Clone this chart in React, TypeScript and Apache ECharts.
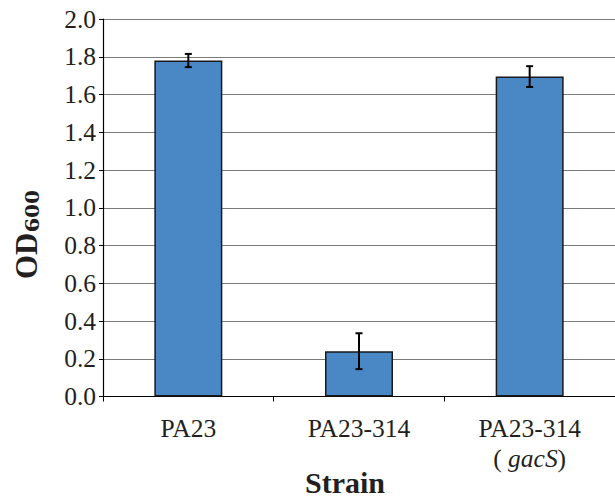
import React, { useEffect, useRef } from "react";
import * as echarts from "echarts";

const categories = ["PA23", "PA23-314", "PA23-314 (gacS)"];
const means = [1.78, 0.24, 1.695];
const errors = [0.035, 0.095, 0.055];
const yTicks = { min: 0, max: 2, interval: 0.2 };

const FONT = "Liberation Serif";
const TXT = "#231f20";
const FS = 25.5;

export default function App() {
  const ref = useRef<HTMLDivElement>(null);
  useEffect(() => {
    if (!ref.current) return;
    const chart = echarts.init(ref.current, null, { renderer: "svg" });
    const errData = means.map((m, i) => [i, m - errors[i], m + errors[i]]);
    chart.setOption({
      animation: false,
      backgroundColor: "#ffffff",
      textStyle: { fontFamily: FONT, fontSize: FS, color: TXT },
      grid: { left: 103, top: 19, width: 516, height: 377.5 },
      xAxis: {
        type: "category",
        data: categories,
        boundaryGap: true,
        axisLine: { show: true, lineStyle: { color: "#000", width: 1.2 } },
        axisTick: { show: true, length: 5, lineStyle: { color: "#000" } },
        axisLabel: {
          interval: 0,
          margin: 17,
          fontFamily: FONT,
          fontSize: FS,
          color: TXT,
          lineHeight: 30,
          formatter: (v: string) => {
            const m = v.match(/^(.*) \((.*)\)$/);
            if (m) return `{n|${m[1]}}\n{n|( }{i|${m[2]}}{n|)}`;
            return `{n|${v}}`;
          },
          rich: {
            n: { fontFamily: FONT, fontSize: FS, color: TXT, lineHeight: 30 },
            i: { fontFamily: FONT, fontSize: FS, color: TXT, fontStyle: "italic", lineHeight: 30 },
          },
        },
      },
      yAxis: {
        type: "value",
        min: yTicks.min,
        max: yTicks.max,
        interval: yTicks.interval,
        axisLine: { show: true, lineStyle: { color: "#000", width: 1.2 } },
        axisTick: { show: true, length: 4, lineStyle: { color: "#000" } },
        axisLabel: {
          margin: 7,
          fontFamily: FONT,
          fontSize: FS,
          color: TXT,
          formatter: (v: number) => v.toFixed(1),
        },
        splitLine: { show: true, lineStyle: { color: "#7a7a7a", width: 1.2 } },
      },
      series: [
        {
          type: "bar",
          data: means,
          barWidth: 68,
          itemStyle: { color: "#4a87c5", borderColor: "#1a1a1a", borderWidth: 1.5 },
        },
        {
          type: "custom",
          data: errData,
          z: 10,
          renderItem: (params: any, api: any) => {
            const x = api.coord([api.value(0), 0])[0];
            const lo = api.coord([api.value(0), api.value(1)])[1];
            const hi = api.coord([api.value(0), api.value(2)])[1];
            const w = 3.5;
            const style = { stroke: "#000", lineWidth: 2 };
            return {
              type: "group",
              children: [
                { type: "line", shape: { x1: x, y1: lo, x2: x, y2: hi }, style },
                { type: "line", shape: { x1: x - w, y1: lo, x2: x + w, y2: lo }, style },
                { type: "line", shape: { x1: x - w, y1: hi, x2: x + w, y2: hi }, style },
              ],
            };
          },
        },
      ],
      graphic: [
        {
          type: "text",
          x: 26,
          y: 279,
          rotation: Math.PI / 2,
          style: {
            text: "OD",
            font: `bold 31px ${FONT}`,
            fill: TXT,
            textAlign: "left",
            textVerticalAlign: "middle",
          },
        },
        {
          type: "text",
          x: 32,
          y: 232,
          rotation: Math.PI / 2,
          scaleX: 1.4,
          style: {
            text: "600",
            font: `bold 20px ${FONT}`,
            fill: TXT,
            textAlign: "left",
            textVerticalAlign: "middle",
          },
        },
        {
          type: "text",
          x: 345,
          y: 482,
          style: {
            text: "Strain",
            font: `bold 30px ${FONT}`,
            fill: TXT,
            textAlign: "center",
            textVerticalAlign: "middle",
          },
        },
      ],
    });
    return () => chart.dispose();
  }, []);
  return (
    <div
      ref={ref}
      style={{ position: "fixed", left: 0, top: 0, width: 615, height: 498, background: "#fff" }}
    />
  );
}
